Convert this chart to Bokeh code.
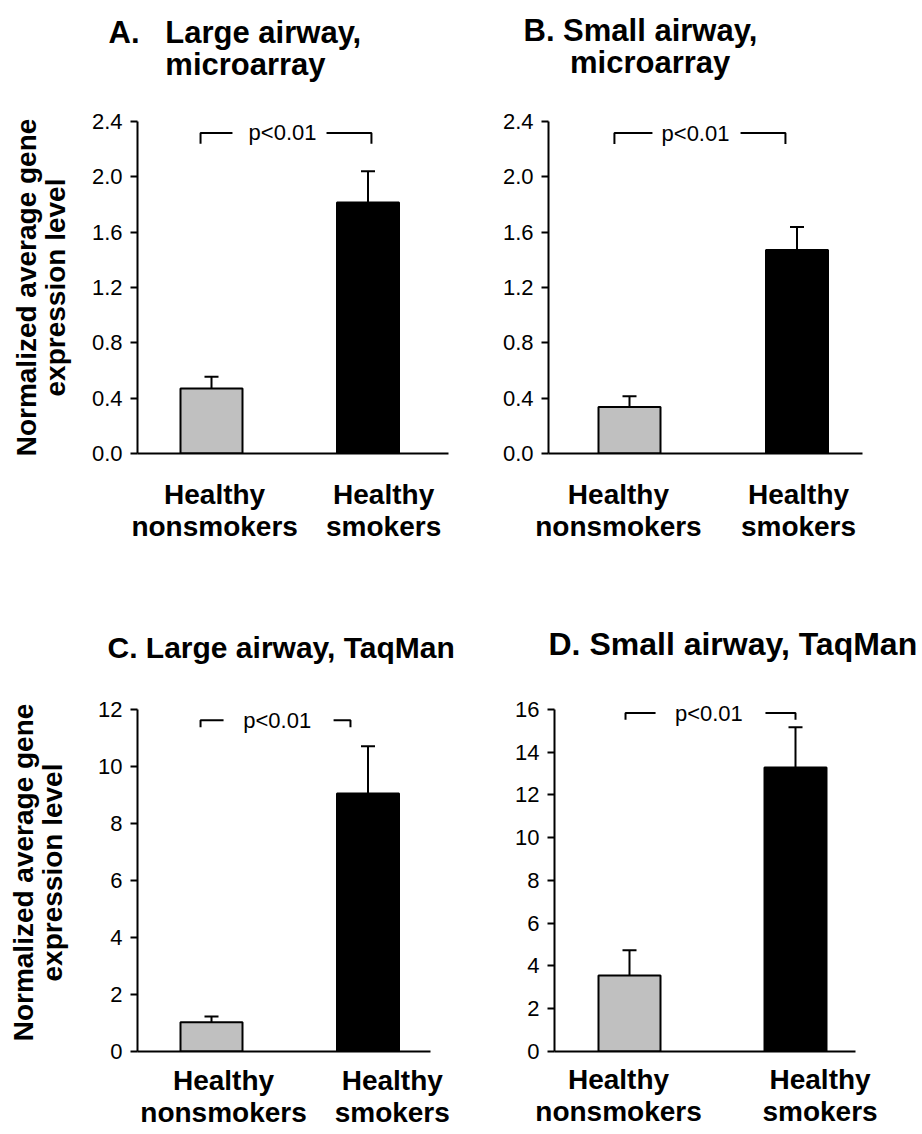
from bokeh.plotting import figure
from bokeh.models import (Range1d, FixedTicker, PrintfTickFormatter, Whisker, TeeHead,
                          ColumnDataSource, Title, CustomJSTickFormatter)
from bokeh.layouts import column, row
from bokeh.embed import file_html
from bokeh.resources import INLINE
from bokeh.core.properties import value

# ---------------- data ----------------
categories = ["Healthy\nnonsmokers", "Healthy\nsmokers"]

a_mean = [0.47, 1.815]
a_sem = [0.085, 0.225]
b_mean = [0.337, 1.471]
b_sem = [0.076, 0.167]
c_mean = [1.03, 9.05]
c_sem = [0.20, 1.66]
d_mean = [3.56, 13.28]
d_sem = [1.18, 1.88]

ab_yticks = [0.0, 0.4, 0.8, 1.2, 1.6, 2.0, 2.4]
c_yticks = [0, 2, 4, 6, 8, 10, 12]
d_yticks = [0, 2, 4, 6, 8, 10, 12, 14, 16]

p_label = "p<0.01"
y_title = "Normalized average gene\nexpression level"

EN = "\u2002"
NB = "\u00a0"
a_title = "A." + NB * 3 + "Large airway,\n" + EN * 2 + NB * 3 + "microarray"
b_title = "B. Small airway,\n" + EN * 3 + "microarray"
c_title = "C. Large airway, TaqMan"
d_title = "D. Small airway, TaqMan"

# ---------------- style / layout ----------------
FONT = "Liberation Sans"
BAR_COLORS = ["#c0c0c0", "#000000"]
TITLE_LH = 0.9

# screenshot coordinates: figure (ox, oy, w, h), frame (left, right, top, bottom),
# bar centre pixels, bar width px; pad = extra frame above the top tick
LAYOUT = {
    "A": dict(fig=(0, 0, 461, 572), frame=(137, 448, 119, 453), centers=(211, 367.5), bw=62, pad=0,
              title=(a_title, 108, 72, 31, 1), label_shift=(0.02, 0.10),
              bracket=(-0.070, 0.134, 0.735, 1.022, 0.454, 2.317, 2.24),
              ylabel_standoff=18, xlabel_standoff=25),
    "B": dict(fig=(461, 0, 461, 572), frame=(548, 862, 121, 455), centers=(629, 796.5), bw=62, pad=0,
              title=(b_title, 523, 72, 31, 1), label_shift=(-0.066, 0.009),
              bracket=(-0.090, 0.137, 0.663, 0.931, 0.394, 2.316, 2.238),
              ylabel_standoff=None, xlabel_standoff=25),
    "C": dict(fig=(0, 572, 461, 562), frame=(137, 430, 707, 1051), centers=(211, 367.5), bw=62, pad=16,
              title=(c_title, 107, 655, 30, 0), label_shift=(0.077, 0.155),
              bracket=(-0.070, 0.077, 0.780, 0.888, 0.42, 11.62, 11.37),
              ylabel_standoff=27, xlabel_standoff=13),
    "D": dict(fig=(461, 572, 461, 562), frame=(554, 855, 709, 1053), centers=(629, 795), bw=62, pad=16,
              title=(d_title, 548, 655, 32, 0), label_shift=(-0.066, 0.148),
              bracket=(-0.024, 0.157, 0.819, 1.0, 0.478, 15.83, 15.52),
              ylabel_standoff=None, xlabel_standoff=12),
}


def make_panel(key, means, sems, yticks, fmt):
    L = LAYOUT[key]
    ox, oy, W, H = L["fig"]
    fl, fr, ft, fb = L["frame"]
    c0, c1 = L["centers"]
    ppu = c1 - c0
    x0 = (fl - c0) / ppu
    x1 = 1 + (fr - c1) / ppu
    ymax = yticks[-1]
    ftop = ft - L["pad"]
    yend = ymax * (fb - ftop) / (fb - ft)
    p = figure(width=W, height=H, x_range=Range1d(x0, x1), y_range=Range1d(0, yend),
               output_backend="svg", toolbar_location=None,
               min_border_left=fl - ox, min_border_right=ox + W - fr,
               min_border_top=ftop - oy, min_border_bottom=oy + H - fb)
    p.title.visible = False
    p.outline_line_color = None
    p.xgrid.visible = False
    p.ygrid.visible = False
    p.background_fill_color = "white"
    p.border_fill_color = "white"

    idx = list(range(len(categories)))
    src = ColumnDataSource(dict(
        x=idx, top=means, upper=[m + s for m, s in zip(means, sems)],
        color=BAR_COLORS))
    p.vbar(x="x", top="top", bottom=0, width=L["bw"] / ppu, source=src,
           fill_color="color", line_color="black", line_width=2)
    p.add_layout(Whisker(source=src, base="x", upper="upper", lower="top",
                         upper_head=TeeHead(size=14, line_width=2, line_color="black"),
                         lower_head=None, line_width=2, line_color="black"))

    # significance bracket
    xl, xs1, xs2, xr, xt, yt, yb = L["bracket"]
    p.multi_line(xs=[[xl, xl, xs1], [xs2, xr, xr]], ys=[[yb, yt, yt], [yt, yt, yb]],
                 line_color="black", line_width=2)
    p.text(x=[xt], y=[yt], text=[p_label], text_align="center", text_baseline="middle",
           text_font=value(FONT), text_font_size="22px", text_color="black")

    # y axis
    ya = p.yaxis[0]
    ya.bounds = (0, ymax)
    ya.ticker = FixedTicker(ticks=yticks)
    ya.formatter = PrintfTickFormatter(format=fmt)
    ya.minor_tick_line_color = None
    ya.major_tick_in = 0
    ya.major_tick_out = 7
    ya.major_tick_line_width = 2
    ya.axis_line_width = 2
    ya.major_label_standoff = 8
    ya.major_label_text_font = FONT
    ya.major_label_text_font_size = "22px"
    ya.major_label_text_color = "black"
    if L["ylabel_standoff"] is not None:
        ya.axis_label = y_title
        ya.axis_label_text_font = FONT
        ya.axis_label_text_font_size = "28px"
        ya.axis_label_text_font_style = "bold"
        ya.axis_label_text_color = "black"
        ya.axis_label_text_line_height = 0.93
        ya.axis_label_standoff = L["ylabel_standoff"]

    # x axis (category labels)
    xa = p.xaxis[0]
    dl, dr = L["label_shift"]
    xa.ticker = FixedTicker(ticks=[idx[0] + dl, idx[1] + dr])
    xa.formatter = CustomJSTickFormatter(args=dict(labels=categories),
                                         code="return labels[index];")
    xa.major_tick_line_color = None
    xa.minor_tick_line_color = None
    xa.major_tick_in = 0
    xa.major_tick_out = 0
    xa.axis_line_width = 2
    xa.major_label_standoff = L["xlabel_standoff"]
    xa.major_label_text_font = FONT
    xa.major_label_text_font_size = "28px"
    xa.major_label_text_font_style = "bold"
    xa.major_label_text_color = "black"
    xa.major_label_text_line_height = 1.05

    # panel title (a trailing blank line keeps the text clear of the frame)
    text, X, Ybase, fpx, blank = L["title"]
    line_adv = fpx * 1.154 * TITLE_LH
    text_bottom = Ybase + 0.2 * fpx + blank * line_adv
    if blank:
        text = text + ("\n" + NB) * blank
    p.add_layout(Title(text=text, align="left", offset=X - fl, vertical_align="bottom",
                       standoff=max(0, int(round(2 * (ftop - text_bottom)))),
                       text_font=FONT, text_font_size=f"{fpx}px", text_font_style="bold",
                       text_color="black", text_line_height=TITLE_LH), "above")
    return p


pa = make_panel("A", a_mean, a_sem, ab_yticks, "%.1f")
pb = make_panel("B", b_mean, b_sem, ab_yticks, "%.1f")
pc = make_panel("C", c_mean, c_sem, c_yticks, "%d")
pd_ = make_panel("D", d_mean, d_sem, d_yticks, "%d")

layout = column(row(pa, pb), row(pc, pd_))

open("out.html", "w").write(file_html(layout, INLINE))
